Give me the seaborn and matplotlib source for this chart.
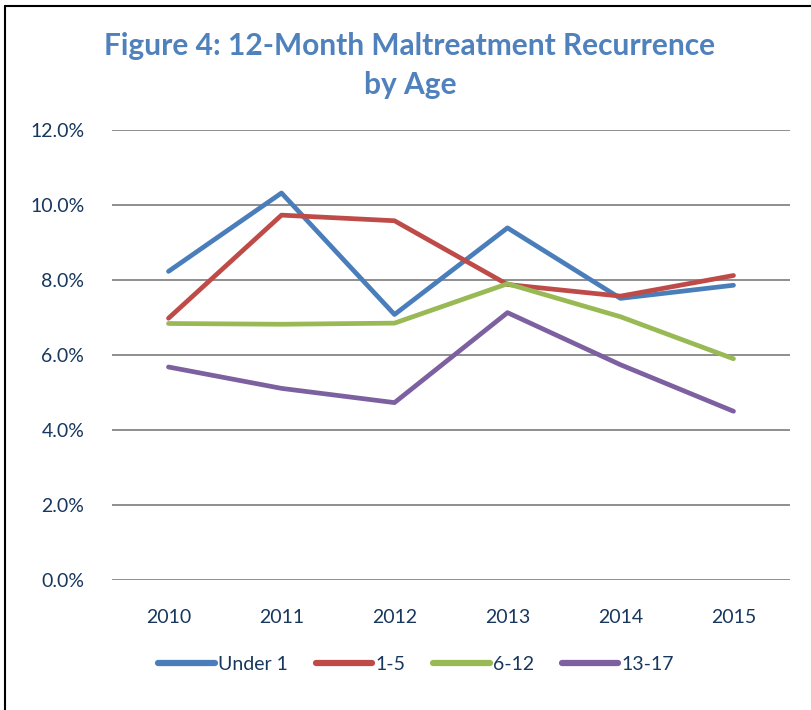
import matplotlib
matplotlib.use("Agg")
import matplotlib.pyplot as plt
from matplotlib.lines import Line2D
import seaborn as sns
import pandas as pd

years = [2010, 2011, 2012, 2013, 2014, 2015]
under_1 = [8.23, 10.32, 7.08, 9.39, 7.51, 7.86]
age_1_5 = [6.98, 9.73, 9.58, 7.88, 7.57, 8.12]
age_6_12 = [6.84, 6.82, 6.85, 7.90, 7.02, 5.90]
age_13_17 = [5.68, 5.11, 4.73, 7.13, 5.74, 4.50]
series_names = ["Under 1", "1-5", "6-12", "13-17"]
y_ticks = [0, 2, 4, 6, 8, 10, 12]
y_tick_labels = ["0.0%", "2.0%", "4.0%", "6.0%", "8.0%", "10.0%", "12.0%"]
colors = ["#4A7EBB", "#BE4B48", "#98B954", "#7D60A0"]

rows = []
for name, vals in zip(series_names, [under_1, age_1_5, age_6_12, age_13_17]):
    for y, v in zip(years, vals):
        rows.append({"Year": y, "Rate": v, "Age": name})
df = pd.DataFrame(rows)

sns.set_style("white")
plt.rcParams["font.family"] = ["Lato", "DejaVu Sans"]

W, H = 812, 710
fig = plt.figure(figsize=(W / 100, H / 100), dpi=100)
ax = fig.add_axes([112 / W, 1 - 580 / H, (790 - 112) / W, (580 - 130) / H])

sns.lineplot(data=df, x="Year", y="Rate", hue="Age", hue_order=series_names,
             palette=colors, linewidth=3.4, ax=ax, legend=False,
             solid_capstyle="round", solid_joinstyle="round")

ax.set_xlim(2009.5, 2015.5)
ax.set_ylim(0, 12)
ax.set_yticks(y_ticks)
ax.set_yticklabels(y_tick_labels)
ax.set_xticks(years)
ax.set_xticklabels([str(y) for y in years])
ax.grid(axis="y", color="#868686", linewidth=1.3)
ax.grid(axis="x", visible=False)
ax.set_axisbelow(True)
for s in ax.spines.values():
    s.set_visible(False)
ax.tick_params(axis="both", length=0, labelsize=14, colors="#17375E")
ax.tick_params(axis="y", pad=20)
ax.tick_params(axis="x", pad=21)
ax.set_xlabel("")
ax.set_ylabel("")

fig.text(410 / W, 1 - 46 / H, "Figure 4: 12-Month Maltreatment Recurrence",
         ha="center", va="center", fontsize=21.5, fontweight="bold", color="#4F81BD")
fig.text(410 / W, 1 - 85 / H, "by Age",
         ha="center", va="center", fontsize=21.5, fontweight="bold", color="#4F81BD")

handles = [Line2D([0], [0], color=c, linewidth=4.5, solid_capstyle="round") for c in colors]
leg = fig.legend(handles, series_names, loc="center", bbox_to_anchor=(416 / W, 1 - 664 / H),
                 ncol=4, frameon=False, handlelength=2.9, handletextpad=0.15,
                 columnspacing=1.45, fontsize=14)
for t in leg.get_texts():
    t.set_color("#17375E")

# outer border
fig.add_artist(Line2D([5 / W, 1.0], [1 - 6 / H, 1 - 6 / H], transform=fig.transFigure,
                      color="black", linewidth=1.5))
fig.add_artist(Line2D([5 / W, 5 / W], [0, 1 - 6 / H], transform=fig.transFigure,
                      color="black", linewidth=1.5))

fig.savefig("out.png", dpi=100)
